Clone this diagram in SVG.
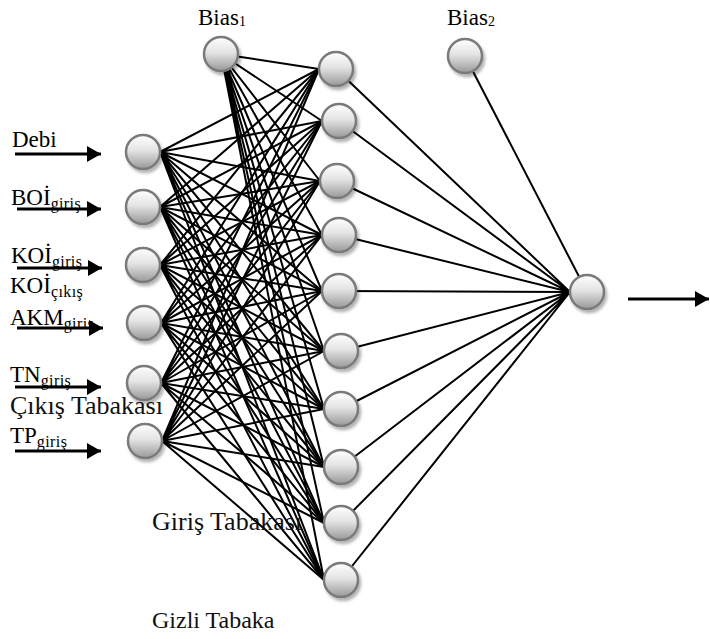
<svg xmlns="http://www.w3.org/2000/svg" width="710" height="639" viewBox="0 0 710 639">
  <style>
    .lbl { font-family: "Liberation Serif", "Times New Roman", serif; font-size: 23px; fill: #000; }
    .sub { font-size: 16px; letter-spacing: 0.4px; }
    .idx { font-size: 14px; }
    .layer { font-family: "Liberation Serif", "Times New Roman", serif; font-size: 26px; fill: #111; }
    .layer.small { font-size: 24px; }
    .edge { fill: none; stroke: #000; stroke-width: 2; }
    .arrow { fill: none; stroke: #000; stroke-width: 3; marker-end: url(#ah); }
    .node { fill: url(#ball); stroke: #7a7a7a; stroke-width: 2.5; filter: url(#shadow); }
  </style>
  <defs>
    <linearGradient id="ball" x1="0" y1="0" x2="0" y2="1">
      <stop offset="0" stop-color="#ffffff"/>
      <stop offset="0.45" stop-color="#e4e4e4"/>
      <stop offset="1" stop-color="#989898"/>
    </linearGradient>
    <filter id="shadow" x="-30%" y="-30%" width="170%" height="170%">
      <feDropShadow dx="2" dy="3" stdDeviation="1.5" flood-color="#000" flood-opacity="0.3"/>
    </filter>
    <marker id="ah" markerWidth="15" markerHeight="16" refX="14" refY="8" orient="auto" markerUnits="userSpaceOnUse">
      <path d="M0,0 L14,8 L0,16 z" fill="#000"/>
    </marker>
  </defs>

  <rect width="710" height="639" fill="#fff"/>

  <!-- weighted connections -->
  <g id="connectors">
    <!-- input layer to hidden layer -->
    <path class="edge" d="M160 152 L319 69 M160 152 L322 121 M160 152 L320 181 M160 152 L322 235 M160 152 L322 291 M160 152 L324 351 M160 152 L324 409 M160 152 L324 467 M160 152 L324 523 M160 152 L324 580"/>
    <path class="edge" d="M160 207 L319 69 M160 207 L322 121 M160 207 L320 181 M160 207 L322 235 M160 207 L322 291 M160 207 L324 351 M160 207 L324 409 M160 207 L324 467 M160 207 L324 523 M160 207 L324 580"/>
    <path class="edge" d="M160 265 L319 69 M160 265 L322 121 M160 265 L320 181 M160 265 L322 235 M160 265 L322 291 M160 265 L324 351 M160 265 L324 409 M160 265 L324 467 M160 265 L324 523 M160 265 L324 580"/>
    <path class="edge" d="M161 323 L319 69 M161 323 L322 121 M161 323 L320 181 M161 323 L322 235 M161 323 L322 291 M161 323 L324 351 M161 323 L324 409 M161 323 L324 467 M161 323 L324 523 M161 323 L324 580"/>
    <path class="edge" d="M161 383 L319 69 M161 383 L322 121 M161 383 L320 181 M161 383 L322 235 M161 383 L322 291 M161 383 L324 351 M161 383 L324 409 M161 383 L324 467 M161 383 L324 523 M161 383 L324 580"/>
    <path class="edge" d="M162 441 L319 69 M162 441 L322 121 M162 441 L320 181 M162 441 L322 235 M162 441 L322 291 M162 441 L324 351 M162 441 L324 409 M162 441 L324 467 M162 441 L324 523 M162 441 L324 580"/>
    <!-- bias 1 to hidden layer -->
    <path class="edge" d="M221 54 L319 69 M221 54 L322 121 M221 54 L320 181 M221 54 L322 235 M221 54 L322 291 M221 54 L324 351 M221 54 L324 409 M221 54 L324 467 M221 54 L324 523 M221 54 L324 580"/>
    <!-- hidden layer to output -->
    <path class="edge" d="M336 69 L570 292 M339 121 L570 292 M337 181 L570 292 M339 235 L570 292 M339 291 L570 292 M341 351 L570 292 M341 409 L570 292 M341 467 L570 292 M341 523 L570 292 M341 580 L570 292"/>
    <!-- bias 2 to output -->
    <path class="edge" d="M465 56 L587 292"/>

    <!-- input arrows -->
    <line class="arrow" x1="15" y1="154" x2="101" y2="154"/>
    <line class="arrow" x1="17" y1="209" x2="101" y2="209"/>
    <line class="arrow" x1="17" y1="268" x2="102" y2="268"/>
    <line class="arrow" x1="17" y1="328" x2="103" y2="328"/>
    <line class="arrow" x1="15" y1="387" x2="101" y2="387"/>
    <line class="arrow" x1="15" y1="451" x2="101" y2="451"/>
    <!-- output arrow -->
    <line class="arrow" x1="628" y1="299" x2="709" y2="299"/>
  </g>

  <!-- bias nodes -->
  <g id="bias1"><circle class="node" cx="221" cy="54" r="17"/></g>
  <g id="bias2"><circle class="node" cx="465" cy="56" r="17"/></g>

  <!-- input layer -->
  <g id="in1"><circle class="node" cx="143" cy="152" r="17"/></g>
  <g id="in2"><circle class="node" cx="143" cy="207" r="17"/></g>
  <g id="in3"><circle class="node" cx="143" cy="265" r="17"/></g>
  <g id="in4"><circle class="node" cx="144" cy="323" r="17"/></g>
  <g id="in5"><circle class="node" cx="144" cy="383" r="17"/></g>
  <g id="in6"><circle class="node" cx="145" cy="441" r="17"/></g>

  <!-- hidden layer -->
  <g id="h1"><circle class="node" cx="336" cy="69" r="17"/></g>
  <g id="h2"><circle class="node" cx="339" cy="121" r="17"/></g>
  <g id="h3"><circle class="node" cx="337" cy="181" r="17"/></g>
  <g id="h4"><circle class="node" cx="339" cy="235" r="17"/></g>
  <g id="h5"><circle class="node" cx="339" cy="291" r="17"/></g>
  <g id="h6"><circle class="node" cx="341" cy="351" r="17"/></g>
  <g id="h7"><circle class="node" cx="341" cy="409" r="17"/></g>
  <g id="h8"><circle class="node" cx="341" cy="467" r="17"/></g>
  <g id="h9"><circle class="node" cx="341" cy="523" r="17"/></g>
  <g id="h10"><circle class="node" cx="341" cy="580" r="17"/></g>

  <!-- output node -->
  <g id="out"><circle class="node" cx="587" cy="292" r="17"/></g>

  <!-- labels -->
  <g id="labels">
    <text class="lbl" x="198" y="25">Bias<tspan class="idx" dy="1">1</tspan></text>
    <text class="lbl" x="447" y="25">Bias<tspan class="idx" dy="1">2</tspan></text>
    <text class="lbl" x="12" y="147">Debi</text>
    <text class="lbl" x="11" y="205">BOİ<tspan class="sub" dy="4">giriş</tspan></text>
    <text class="lbl" x="11" y="263">KOİ<tspan class="sub" dy="4">giriş</tspan></text>
    <text class="lbl" x="10" y="293">KOİ<tspan class="sub" dy="4">çıkış</tspan></text>
    <text class="lbl" x="10" y="325">AKM<tspan class="sub" dy="4">giriş</tspan></text>
    <text class="lbl" x="10" y="382">TN<tspan class="sub" dy="4">giriş</tspan></text>
    <text class="layer" x="10" y="414">Çıkış Tabakası</text>
    <text class="lbl" x="10" y="443">TP<tspan class="sub" dy="4">giriş</tspan></text>
    <text class="layer" x="152" y="530">Giriş Tabakası</text>
    <text class="layer small" x="152" y="628">Gizli Tabaka</text>
  </g>
</svg>
